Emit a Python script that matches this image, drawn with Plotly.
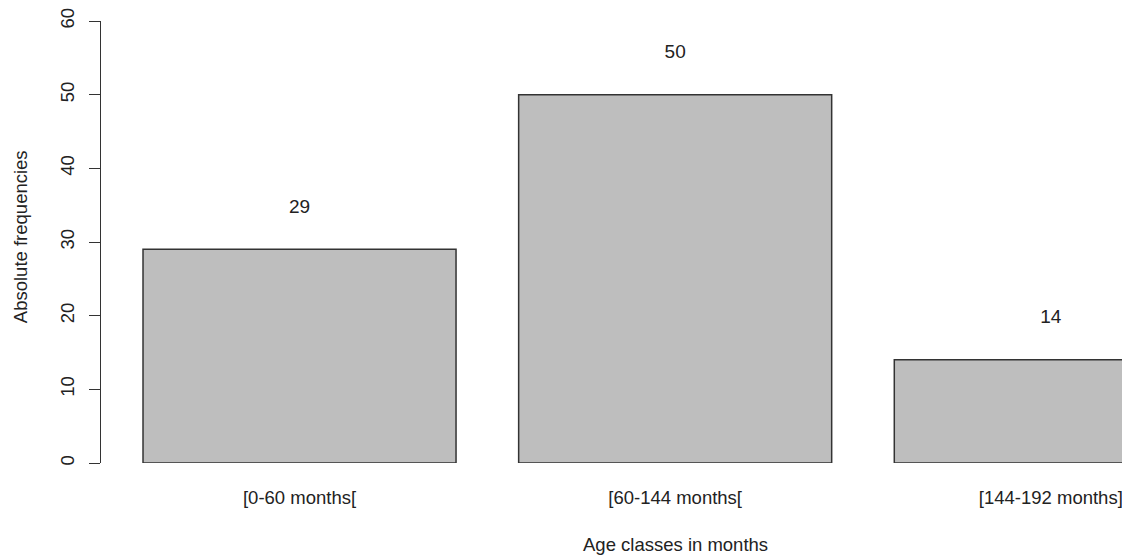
import plotly.graph_objects as go

categories = ["[0-60 months[", "[60-144 months[", "[144-192 months]"]
frequencies = [29, 50, 14]
y_ticks = [0, 10, 20, 30, 40, 50, 60]

# R barplot geometry: width 1, space 0.2
bar_width = 1.0
space = 0.2
centers = [space + bar_width / 2 + i * (bar_width + space) for i in range(len(categories))]
label_offset = 5.6

FONT = "Liberation Sans, Arial, sans-serif"
TXT = "#222222"

fig = go.Figure()
fig.add_trace(go.Bar(
    x=centers, y=frequencies, width=bar_width,
    marker=dict(color="#bebebe", line=dict(color="#333333", width=1.5)),
    hoverinfo="skip", showlegend=False,
))
fig.add_trace(go.Scatter(
    x=centers, y=[v + label_offset for v in frequencies],
    mode="text", text=[str(v) for v in frequencies],
    textfont=dict(family=FONT, size=19, color=TXT),
    textposition="middle center", showlegend=False, hoverinfo="skip",
    cliponaxis=False,
))

fig.update_layout(
    width=1122, height=552,
    margin=dict(l=93, r=0, t=13, b=97),
    paper_bgcolor="white", plot_bgcolor="white",
    font=dict(family=FONT, size=18.5, color=TXT),
    xaxis=dict(
        range=[0.0658, 3.353],
        tickvals=centers, ticktext=categories,
        showline=False, showgrid=False, zeroline=False,
        ticks="outside", ticklen=18, tickcolor="rgba(0,0,0,0)",
        tickfont=dict(family=FONT, size=18.5, color=TXT),
        ticklabeloverflow="allow",
    ),
    yaxis=dict(
        range=[0, 60],
        tickvals=y_ticks, ticktext=[str(t) for t in y_ticks],
        tickangle=-90,
        showline=True, linecolor="#333333", linewidth=1,
        ticks="outside", ticklen=11, tickcolor="#333333", tickwidth=1,
        showgrid=False, zeroline=False,
        tickfont=dict(family=FONT, size=18.5, color=TXT),
        ticklabelstandoff=8,
        ticklabeloverflow="allow",
    ),
    annotations=[
        dict(text="Age classes in months", x=1.9, xref="x", y=-0.1855, yref="paper",
             xanchor="center", yanchor="middle", showarrow=False,
             font=dict(family=FONT, size=18.5, color=TXT)),
        dict(text="Absolute frequencies", x=-0.0787, xref="paper", y=0.511, yref="paper",
             xanchor="center", yanchor="middle", textangle=-90, showarrow=False,
             font=dict(family=FONT, size=18.5, color=TXT)),
    ],
)

fig.write_html("out.html")
